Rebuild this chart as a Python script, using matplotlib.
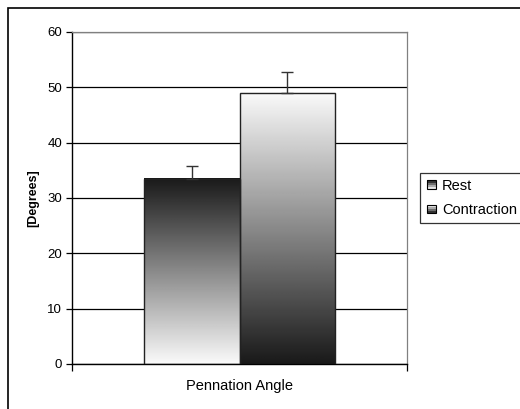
import matplotlib

matplotlib.use("Agg")

import matplotlib.pyplot as plt
import numpy as np
from matplotlib.legend_handler import HandlerBase
from matplotlib.patches import Patch, Rectangle

plt.rcParams["font.family"] = ["Liberation Sans", "DejaVu Sans"]

# Data
category = "Pennation Angle"
series = ["Rest", "Contraction"]
means = [33.5, 49.0]
errors = [2.3, 3.8]
# gradient direction: True = dark at top, light at bottom
dark_top = [True, False]

W, H = 520, 409
fig = plt.figure(figsize=(W / 100, H / 100), dpi=100)
fig.patch.set_facecolor("white")

# outer chart border (runs off right/bottom edge like the reference)
fig.patches.append(Rectangle((8 / W, -0.2), 1.2, 1 - 8 / H + 0.2,
                             transform=fig.transFigure, fill=False,
                             edgecolor="black", linewidth=1.2))

ax = fig.add_axes([72 / W, 1 - 364 / H, 335 / W, 332 / H])

width = 0.284
offsets = [-width / 2, width / 2]


def gradient(top_dark, n=256):
    g = np.linspace(0.1, 0.98, n)
    if not top_dark:
        g = g[::-1]
    return g.reshape(-1, 1)


for i, (name, m, e) in enumerate(zip(series, means, errors)):
    x0 = offsets[i] - width / 2
    ax.imshow(gradient(dark_top[i]), cmap="gray", vmin=0, vmax=1,
              extent=(x0, x0 + width, 0, m), origin="upper",
              aspect="auto", zorder=2, interpolation="bilinear")
    ax.bar(offsets[i], m, width=width, facecolor="none", edgecolor="#222222",
           linewidth=1.0, zorder=3)
    ax.errorbar(offsets[i], m, yerr=[[0], [e]], fmt="none", ecolor="#333333",
                elinewidth=1.0, capsize=4, capthick=1.0, zorder=4)

ax.set_aspect("auto")
ax.set_xlim(-0.5, 0.5)
ax.set_ylim(0, 60)

ax.set_yticks(np.arange(0, 61, 10))
ax.yaxis.grid(True, color="black", linewidth=0.9, zorder=0)
ax.set_axisbelow(True)
ax.tick_params(axis="y", direction="out", length=4, width=0.9,
               labelsize=9.5, pad=3, colors="black")
ax.set_ylabel("[Degrees]", fontsize=9, fontweight="bold", labelpad=6)

ax.set_xticks([-0.5, 0.5])
ax.set_xticklabels(["", ""])
ax.tick_params(axis="x", which="major", direction="out", length=5, width=0.9)
ax.set_xticks([0], minor=True)
ax.set_xticklabels([category], minor=True, fontsize=10.5)
ax.tick_params(axis="x", which="minor", length=0, pad=11)

for side in ("top", "right"):
    ax.spines[side].set_color("#808080")
    ax.spines[side].set_linewidth(0.9)
for side in ("left", "bottom"):
    ax.spines[side].set_color("black")
    ax.spines[side].set_linewidth(1.0)


class GradientHandler(HandlerBase):
    def __init__(self, top_dark):
        super().__init__()
        self.top_dark = top_dark

    def create_artists(self, legend, orig_handle, xdescent, ydescent,
                       width, height, fontsize, trans):
        s = min(width, height)
        x0 = -xdescent + 1
        y0 = -ydescent + (height - s) / 2
        shades = np.linspace(0.2, 0.9, 4)
        if not self.top_dark:
            shades = shades[::-1]
        arts = []
        for k, sh in enumerate(shades):
            yy = y0 + s - (k + 1) * s / 4
            arts.append(Rectangle((x0, yy), s, s / 4, facecolor=str(sh),
                                  edgecolor="none", transform=trans))
        arts.append(Rectangle((x0, y0), s, s, facecolor="none",
                              edgecolor="black", linewidth=0.8,
                              transform=trans))
        return arts


handles = [Patch(label=n) for n in series]
leg = fig.legend(handles, series, loc="upper left",
                 bbox_to_anchor=(420 / W, 1 - 173 / H), borderaxespad=0,
                 fontsize=10.5, frameon=True, fancybox=False,
                 handlelength=0.6, handleheight=0.6, handletextpad=0.5,
                 labelspacing=0.7, borderpad=0.4,
                 handler_map={handles[0]: GradientHandler(True),
                              handles[1]: GradientHandler(False)})
leg.get_frame().set_edgecolor("black")
leg.get_frame().set_linewidth(0.9)

fig.savefig("out.png", dpi=100)
